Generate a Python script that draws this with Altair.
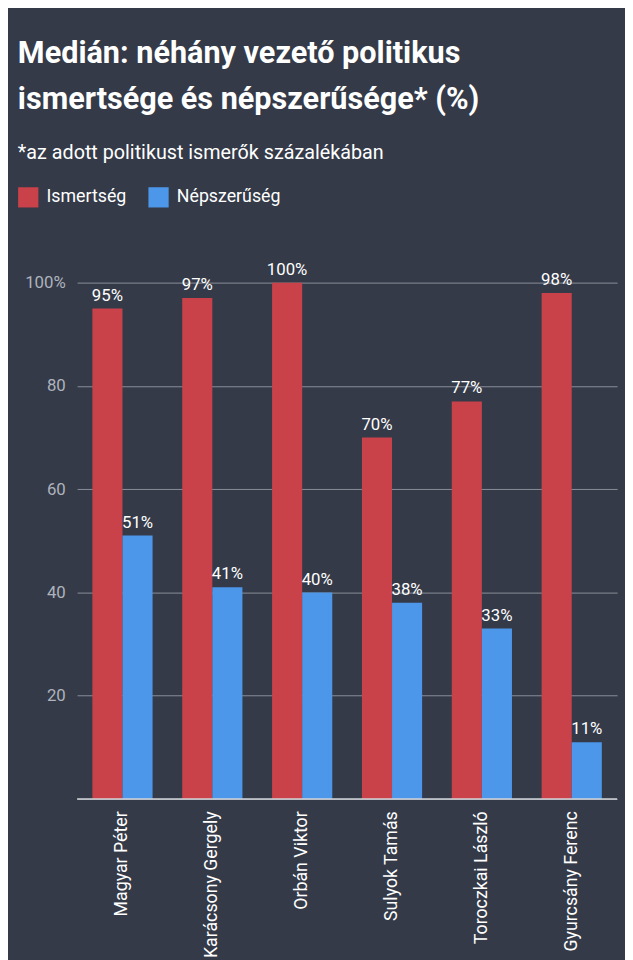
import pandas as pd
import altair as alt

names = ["Magyar Péter", "Karácsony Gergely", "Orbán Viktor", "Sulyok Tamás",
         "Toroczkai László", "Gyurcsány Ferenc"]
ismertseg = [95, 97, 100, 70, 77, 98]
nepszeruseg = [51, 41, 40, 38, 33, 11]
series = ["Ismertség", "Népszerűség"]
colors = ["#c9424a", "#4c97ea"]
title_lines = ["Medián: néhány vezető politikus", "ismertsége és népszerűsége* (%)"]
subtitle = "*az adott politikust ismerők százalékában"

rows = []
for i, n in enumerate(names):
    rows.append({"name": n, "series": series[0], "value": ismertseg[i]})
    rows.append({"name": n, "series": series[1], "value": nepszeruseg[i]})
df = pd.DataFrame(rows)
df["label"] = df["value"].astype(str) + "%"

base = alt.Chart(df).encode(
    x=alt.X("name:N", sort=names, title=None,
            scale=alt.Scale(paddingInner=0.33, paddingOuter=0.17),
            axis=alt.Axis(labelAngle=270, labelAlign="right", labelBaseline="middle",
                          labelColor="white", labelFontSize=18, labelPadding=12,
                          ticks=False, domain=False, labelFont="Roboto")),
    xOffset=alt.XOffset("series:N", sort=series),
    y=alt.Y("value:Q", title=None,
            scale=alt.Scale(domain=[0, 100], nice=False),
            axis=alt.Axis(values=[0, 20, 40, 60, 80, 100], ticks=False, domain=False,
                          labelExpr="datum.value == 100 ? '100%' : (datum.value == 0 ? '' : datum.label)",
                          labelColor="#aeb3bd", labelFontSize=17, labelPadding=12,
                          labelFont="Roboto", gridColor="#8a8f99", gridWidth=1)),
)

bars = base.mark_bar().encode(
    color=alt.Color("series:N", sort=series,
                    scale=alt.Scale(domain=series, range=colors),
                    legend=alt.Legend(orient="none", legendX=-60, legendY=-97,
                                      direction="horizontal", title=None,
                                      symbolType="square", symbolSize=420,
                                      symbolStrokeWidth=0, labelColor="white",
                                      labelFontSize=18, labelFont="Roboto",
                                      columnPadding=22, labelOffset=8))
)

text = base.mark_text(dy=-13, color="white", fontSize=17, font="Roboto").encode(
    text="label:N")

zero = alt.Chart(pd.DataFrame({"v": [0]})).mark_rule(color="#d0d3d8", strokeWidth=1.5).encode(
    y="v:Q")

heading = alt.Chart(pd.DataFrame({"t": title_lines, "yy": [-222, -176]})).mark_text(
    align="left", baseline="alphabetic", color="white", fontSize=31,
    fontWeight="bold", font="Roboto").encode(
    x=alt.value(-60), y=alt.YValue("yy:Q") if False else alt.value(0), text="t:N")

line1 = alt.Chart(pd.DataFrame({"t": [title_lines[0]]})).mark_text(
    align="left", baseline="alphabetic", color="white", fontSize=31,
    fontWeight="bold", font="Roboto").encode(x=alt.value(-60), y=alt.value(-222), text="t:N")
line2 = alt.Chart(pd.DataFrame({"t": [title_lines[1]]})).mark_text(
    align="left", baseline="alphabetic", color="white", fontSize=31,
    fontWeight="bold", font="Roboto").encode(x=alt.value(-60), y=alt.value(-176), text="t:N")
sub = alt.Chart(pd.DataFrame({"t": [subtitle]})).mark_text(
    align="left", baseline="alphabetic", color="white", fontSize=20,
    font="Roboto").encode(x=alt.value(-60), y=alt.value(-125), text="t:N")

chart = (bars + text + zero + line1 + line2 + sub).properties(
    width=547, height=523,
    autosize=alt.AutoSizeParams(type="none"),
    padding={"left": 70, "top": 272, "right": 8, "bottom": 160},
    background="#343a48",
).configure_view(stroke=None, clip=False).configure_axis(labelFont="Roboto")

chart.save("out.html", embed_options={"renderer": "svg", "actions": False})
